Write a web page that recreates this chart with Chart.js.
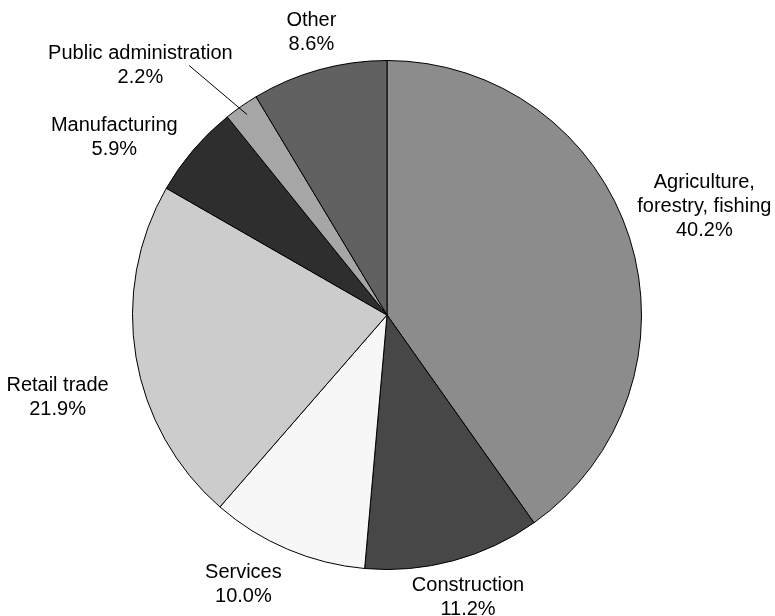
<!DOCTYPE html>
<html>
<head>
<meta charset="utf-8">
<script src="https://cdn.jsdelivr.net/npm/chart.js@4"></script>
<style>
  body { margin: 0; background: #fff; }
</style>
</head>
<body>
<canvas id="sectorChart" width="775" height="616"></canvas>
<script>
const sectors = [
  ['Agriculture,', 'forestry, fishing'],
  ['Construction'],
  ['Services'],
  ['Retail trade'],
  ['Manufacturing'],
  ['Public administration'],
  ['Other']
];
const shares = [40.2, 11.2, 10.0, 21.9, 5.9, 2.2, 8.6];
const fills = ['#8c8c8c', '#474747', '#f7f7f7', '#cccccc', '#2e2e2e', '#a6a6a6', '#616161'];

// where each label sits relative to its slice: extra distance past the rim (px)
// and a small turn away from the slice's middle (degrees)
const labelGap = [81, 39, 51, 85, 71, 96, 38];
const labelTurn = [-1.3, -0.9, 5, -4.45, -7.4, -9.8, 0.5];
const FONT = '20px "Liberation Sans", Arial, Helvetica, sans-serif';

const sliceLabels = {
  id: 'sliceLabels',
  afterDatasetsDraw(chart) {
    const c = chart.ctx;
    const arcs = chart.getDatasetMeta(0).data;
    c.save();
    c.font = FONT;
    c.fillStyle = '#000';
    c.textAlign = 'center';
    c.textBaseline = 'middle';
    arcs.forEach((arc, i) => {
      const mid = (arc.startAngle + arc.endAngle) / 2;
      const a = mid + labelTurn[i] * Math.PI / 180;
      const r = arc.outerRadius + labelGap[i];
      const cx = arc.x + r * Math.cos(a);
      const cy = arc.y + r * Math.sin(a);
      const lines = sectors[i].concat([shares[i].toFixed(1) + '%']);
      const lh = 24;
      const top = cy - (lines.length - 1) * lh / 2;
      lines.forEach((t, j) => c.fillText(t, cx, top + j * lh));

      // tiny slice gets a leader line into the wedge
      if (shares[i] < 3) {
        const a2 = mid - 3.5 * Math.PI / 180;
        c.beginPath();
        c.strokeStyle = '#000';
        c.lineWidth = 1;
        c.moveTo(arc.x + (arc.outerRadius + 64) * Math.cos(a2), arc.y + (arc.outerRadius + 64) * Math.sin(a2));
        c.lineTo(arc.x + (arc.outerRadius - 10) * Math.cos(mid), arc.y + (arc.outerRadius - 10) * Math.sin(mid));
        c.stroke();
      }
    });
    c.restore();
  }
};

new Chart(document.getElementById('sectorChart'), {
  type: 'pie',
  data: {
    labels: sectors.map(s => s.join(' ')),
    datasets: [{
      data: shares,
      backgroundColor: fills,
      borderColor: '#000',
      borderWidth: 1
    }]
  },
  options: {
    responsive: false,
    animation: false,
    layout: { padding: { left: 132, right: 133, top: 60, bottom: 46 } },
    plugins: {
      legend: { display: false },
      tooltip: { enabled: false }
    }
  },
  plugins: [sliceLabels]
});
</script>
</body>
</html>
